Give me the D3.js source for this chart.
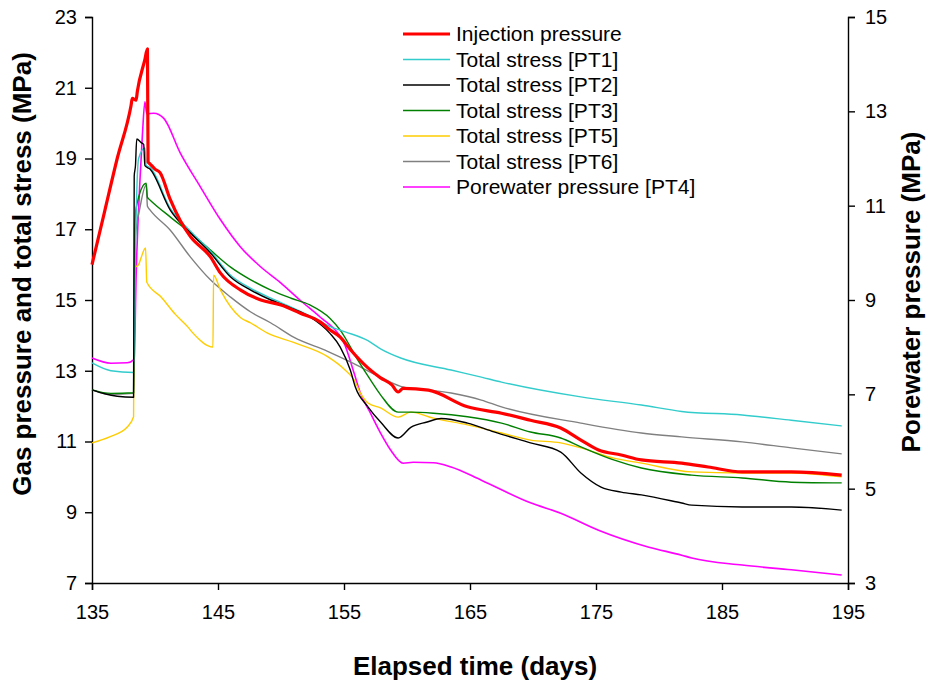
<!DOCTYPE html>
<html>
<head>
<meta charset="utf-8">
<script src="https://cdn.jsdelivr.net/npm/d3@7"></script>
<style>
  body { margin: 0; background: #fff; }
  text { font-family: Arial, "Liberation Sans", sans-serif; }
</style>
</head>
<body>
<div id="chart"></div>
<script>
// tick values
const xTicks = [135, 145, 155, 165, 175, 185, 195];
const yLeftTicks = [7, 9, 11, 13, 15, 17, 19, 21, 23];
const yRightTicks = [3, 5, 7, 9, 11, 13, 15];

// series values, [day, MPa]
const injection = [[135, 16.0], [136, 17.5], [137, 19.0], [138.1, 20.5], [138.2, 20.7], [138.5, 20.65], [138.6, 20.9],
  [139.2, 21.8], [139.4, 22.1], [139.45, 18.9], [139.6, 18.85], [140.0, 18.7], [140.4, 18.6], [141.2, 17.85],
  [142.0, 17.25], [142.8, 16.8], [144.4, 16.22], [145.2, 15.76], [146.8, 15.28], [148.4, 15.0], [150.0, 14.86],
  [151.5, 14.63], [153.1, 14.38], [153.9, 14.15], [154.7, 13.95], [155.5, 13.6], [156.9, 13.08], [157.9, 12.8],
  [158.8, 12.6], [159.3, 12.4], [159.7, 12.5], [161.7, 12.45], [164.8, 11.98], [167.5, 11.8], [169.8, 11.6],
  [172.2, 11.38], [173.8, 11.04], [175.2, 10.76], [177.0, 10.62], [178.6, 10.48], [181.8, 10.39], [183.9, 10.28],
  [186.6, 10.14], [190.5, 10.14], [194.5, 10.05]];
const stressPT1 = [[135, 13.22], [136.5, 13.0], [138.3, 12.95], [138.45, 16.5], [138.7, 19.0], [139.2, 19.3], [139.3, 18.8],
  [139.6, 18.75], [141.2, 17.6], [142.8, 16.95], [144.4, 16.38], [146.0, 15.7], [147.6, 15.33], [149.2, 15.05],
  [150.8, 14.8], [152.3, 14.55], [153.9, 14.25], [155.1, 14.1], [156.9, 13.85], [157.9, 13.62], [159.5, 13.36],
  [163.5, 13.02], [165.9, 12.82], [167.5, 12.68], [173.8, 12.26], [178.6, 12.03], [181.8, 11.85], [186.6, 11.75],
  [190.5, 11.6], [194.5, 11.44]];
const stressPT2 = [[135, 12.46], [136, 12.35], [137, 12.28], [138.3, 12.25], [138.35, 18.5], [138.45, 18.8], [138.55, 19.55],
  [138.9, 19.45], [139.1, 19.4], [139.2, 18.8], [139.6, 18.7], [141.2, 17.55], [142.8, 16.9], [144.4, 16.33],
  [146.0, 15.65], [147.6, 15.28], [149.2, 15.0], [150.8, 14.77], [152.3, 14.52], [153.9, 14.05], [154.7, 13.67],
  [155.5, 13.02], [155.9, 12.54], [156.9, 11.98], [157.9, 11.55], [159.3, 11.1], [160.3, 11.4], [161.6, 11.55],
  [162.7, 11.65], [164.8, 11.52], [166.9, 11.27], [169.8, 10.96], [172.2, 10.7], [173.8, 10.11], [175.4, 9.71],
  [177.0, 9.57], [178.6, 9.49], [181.8, 9.26], [182.6, 9.2], [186.6, 9.15], [190.5, 9.15], [194.5, 9.06]];
const stressPT3 = [[135, 12.46], [136.5, 12.36], [138.3, 12.38], [138.4, 17.0], [138.5, 17.6], [139.3, 18.3], [139.4, 17.9],
  [139.6, 17.83], [141.2, 17.35], [142.8, 16.9], [144.4, 16.41], [146.0, 15.93], [147.6, 15.57], [149.2, 15.28],
  [150.8, 15.05], [152.3, 14.86], [153.9, 14.48], [154.7, 14.15], [156.1, 13.3], [157.1, 12.74], [157.9, 12.32],
  [159.3, 11.83], [160.3, 11.83], [162.1, 11.8], [164.8, 11.7], [167.5, 11.52], [169.8, 11.27], [172.2, 11.1],
  [173.8, 10.85], [176.4, 10.48], [178.6, 10.25], [182.6, 10.05], [186.6, 9.97], [190.5, 9.85], [194.5, 9.83]];
const stressPT5 = [[135, 10.96], [136.4, 11.13], [137.8, 11.41], [138.3, 11.7], [138.35, 15.9], [138.7, 16.0], [138.9, 16.2],
  [139.25, 16.47], [139.35, 15.5], [140.5, 15.08], [141.6, 14.6], [142.6, 14.24], [143.0, 14.07], [144.6, 13.67],
  [144.65, 15.7], [145.2, 15.28], [146.8, 14.5], [147.6, 14.35], [148.9, 14.07], [151.0, 13.8], [153.7, 13.4],
  [155.0, 13.05], [155.8, 12.74], [156.3, 12.37], [156.9, 12.09], [157.9, 11.95], [159.3, 11.69], [160.3, 11.83],
  [162.1, 11.66], [164.8, 11.47], [167.5, 11.24], [169.8, 11.04], [172.2, 10.96], [173.8, 10.82], [176.4, 10.53],
  [178.6, 10.39], [182.6, 10.14], [186.6, 10.11], [190.5, 10.11], [194.5, 10.0]];
const stressPT6 = [[135, 12.46], [136.5, 12.33], [138.3, 12.36], [138.45, 16.8], [138.8, 17.6], [139.3, 18.25], [139.4, 17.65],
  [139.6, 17.55], [141.2, 16.98], [142.8, 16.22], [144.4, 15.57], [146.0, 15.08], [147.6, 14.66], [149.2, 14.35],
  [151.0, 13.95], [153.7, 13.55], [155.5, 13.25], [157.7, 12.85], [159.5, 12.56], [163.5, 12.37], [165.9, 12.17],
  [167.5, 11.98], [173.8, 11.52], [178.6, 11.24], [181.8, 11.13], [186.6, 10.99], [190.5, 10.82], [194.5, 10.65]];
// porewater pressure, right axis
const porewaterPT4 = [[135, 7.77], [136.5, 7.66], [137.8, 7.67], [138.3, 7.73], [138.35, 7.75], [138.5, 9.5], [138.8, 11.5],
  [139.0, 12.5], [139.2, 13.2], [139.35, 12.95], [139.9, 12.96], [140.7, 12.85], [142.0, 12.12], [143.6, 11.4],
  [145.2, 10.7], [146.8, 10.12], [148.4, 9.7], [150.0, 9.36], [151.5, 9.0], [153.1, 8.64], [154.5, 8.3],
  [155.0, 8.09], [155.8, 7.45], [156.3, 7.03], [157.1, 6.6], [157.9, 6.18], [158.7, 5.82], [159.7, 5.54],
  [160.5, 5.56], [162.1, 5.55], [163.5, 5.46], [165.9, 5.18], [169.8, 4.7], [172.2, 4.48], [175.2, 4.12],
  [179.2, 3.76], [181.8, 3.59], [182.6, 3.53], [186.6, 3.38], [190.5, 3.28], [194.5, 3.17]];

const seriesNames = ["Injection pressure", "Total stress [PT1]", "Total stress [PT2]", "Total stress [PT3]",
  "Total stress [PT5]", "Total stress [PT6]", "Porewater pressure [PT4]"];
const seriesData = [injection, stressPT1, stressPT2, stressPT3, stressPT5, stressPT6, porewaterPT4];
const seriesColors = ["#ff0000", "#33cccc", "#000000", "#008000", "#ffcc00", "#808080", "#ff00ff"];
const seriesWidths = [3.2, 1.4, 1.4, 1.4, 1.4, 1.4, 1.6];

// dimensions
const W = 929, H = 682;
const margin = { top: 17, right: 81, bottom: 99, left: 92 },
  width = W - margin.left - margin.right,
  height = H - margin.top - margin.bottom;

const svg = d3.select("#chart")
  .append("svg")
  .attr("width", W)
  .attr("height", H);

const g = svg.append("g")
  .attr("transform", "translate(" + margin.left + "," + margin.top + ")");

const x = d3.scaleLinear().domain([135, 195]).range([0, width]);
const yL = d3.scaleLinear().domain([7, 23]).range([height, 0]);
const yR = d3.scaleLinear().domain([3, 15]).range([height, 0]);

// axes
function styleAxis(sel) {
  sel.selectAll("path, line").attr("stroke", "#000").attr("stroke-width", 1.4);
  sel.selectAll("text").attr("font-size", 20).attr("fill", "#000")
    .attr("font-family", "Arial, 'Liberation Sans', sans-serif");
}

g.append("g")
  .attr("transform", "translate(0," + height + ")")
  .call(d3.axisBottom(x).tickValues(xTicks).tickSizeOuter(0).tickSize(7).tickPadding(15).tickFormat(d3.format("d")))
  .call(styleAxis);

g.append("g")
  .call(d3.axisLeft(yL).tickValues(yLeftTicks).tickSizeOuter(0).tickSize(7).tickPadding(8).tickFormat(d3.format("d")))
  .call(styleAxis);

g.append("g")
  .attr("transform", "translate(" + width + ",0)")
  .call(d3.axisRight(yR).tickValues(yRightTicks).tickSizeOuter(0).tickSize(7).tickPadding(10).tickFormat(d3.format("d")))
  .call(styleAxis);

// lines
const lineL = d3.line().curve(d3.curveMonotoneX).x(d => x(d[0])).y(d => yL(d[1]));
const lineR = d3.line().curve(d3.curveMonotoneX).x(d => x(d[0])).y(d => yR(d[1]));

// draw in back-to-front order similar to the original
const drawOrder = [6, 5, 4, 3, 1, 2, 0];
drawOrder.forEach(i => {
  g.append("path")
    .datum(seriesData[i])
    .attr("fill", "none")
    .attr("stroke", seriesColors[i])
    .attr("stroke-width", seriesWidths[i])
    .attr("stroke-linejoin", "round")
    .attr("d", i === 6 ? lineR : lineL);
});

// axis titles
svg.append("text")
  .attr("transform", "translate(31,274) rotate(-90)")
  .attr("text-anchor", "middle")
  .attr("font-size", 26)
  .attr("font-weight", "bold")
  .text("Gas pressure and total stress (MPa)");

svg.append("text")
  .attr("transform", "translate(920,292) rotate(-90)")
  .attr("text-anchor", "middle")
  .attr("font-size", 26)
  .attr("font-weight", "bold")
  .text("Porewater pressure (MPa)");

svg.append("text")
  .attr("x", 475)
  .attr("y", 675)
  .attr("text-anchor", "middle")
  .attr("font-size", 26)
  .attr("font-weight", "bold")
  .text("Elapsed time (days)");

// legend
const legend = svg.append("g").attr("transform", "translate(403,34)");
seriesNames.forEach((name, i) => {
  const row = legend.append("g").attr("transform", "translate(0," + (i * 25.5) + ")");
  row.append("line")
    .attr("x1", 0).attr("x2", 47)
    .attr("stroke", seriesColors[i])
    .attr("stroke-width", i === 0 ? 3.2 : 1.4);
  row.append("text")
    .attr("x", 53)
    .attr("y", 7)
    .attr("font-size", 21)
    .text(name);
});
</script>
</body>
</html>
